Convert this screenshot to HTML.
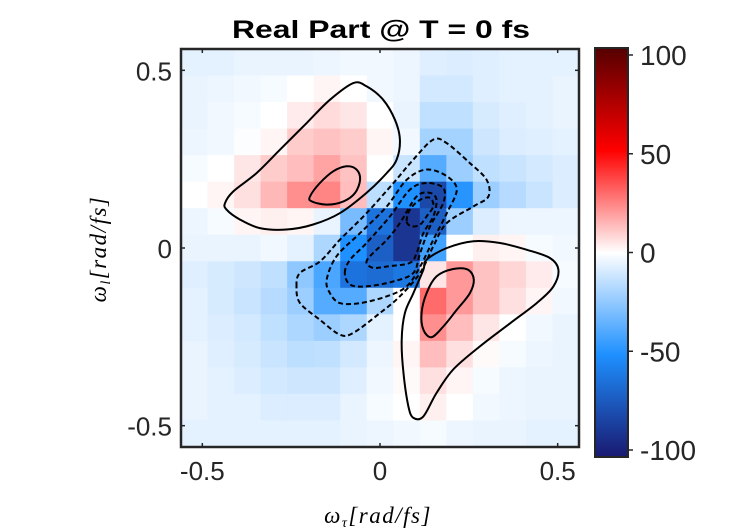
<!DOCTYPE html>
<html><head><meta charset="utf-8"><style>
body{margin:0;background:#fff;}
svg{display:block;font-family:"Liberation Sans",sans-serif;}
</style></head><body>
<svg id="chart" width="731" height="531" viewBox="0 0 731 531" xmlns="http://www.w3.org/2000/svg">
<defs>
<linearGradient id="cbg" x1="0" y1="1" x2="0" y2="0">
<stop offset="0" stop-color="#191970"/><stop offset="0.25" stop-color="#1e90ff"/><stop offset="0.5" stop-color="#ffffff"/><stop offset="0.75" stop-color="#ff0000"/><stop offset="1" stop-color="#550000"/>
</linearGradient>
<clipPath id="pc"><rect x="181" y="49" width="398" height="398"/></clipPath>
</defs>
<g id="cells" clip-path="url(#pc)"></g>
<g id="contours" clip-path="url(#pc)"></g>
<g id="axes"></g>
<text x="381" y="38" text-anchor="middle" font-size="25" font-weight="bold" textLength="298" lengthAdjust="spacingAndGlyphs">Real Part @ T = 0 fs</text>
<text x="378" y="523" text-anchor="middle" font-family="Liberation Serif,serif" font-style="italic" font-size="23" letter-spacing="1.5">ω<tspan font-size="14" dy="4">τ</tspan><tspan dy="-4">[rad/fs]</tspan></text>
<text transform="translate(106,249) rotate(-90)" text-anchor="middle" font-family="Liberation Serif,serif" font-style="italic" font-size="23" letter-spacing="1.5">ω<tspan font-size="14" dy="4">l</tspan><tspan dy="-4">[rad/fs]</tspan></text>
<rect x="595" y="48" width="33" height="409" fill="url(#cbg)" stroke="#262626" stroke-width="2"/>
<g id="cbticks"></g>
</svg>
<script>
const xTicks=[-0.5,0,0.5];
const yTicks=[-0.5,0,0.5];
const xTickLabels=["-0.5","0","0.5"];
const yTickLabels=["-0.5","0","0.5"];
const cbTicks=[-100,-50,0,50,100];
const cbTickLabels=["-100","-50","0","50","100"];
const gridRows=[
[-6,-6,-5,-5,-5,-4,-3,-3,-4,-7,-8,-7,-6,-6,-6],
[-5,-4,-3,-2,0,2,0,-3,-4,-10,-10,-7,-6,-6,-5],
[-5,-3,-2,0,4,7,5,0,-5,-14,-14,-9,-7,-6,-5],
[-4,-3,-1,2,10,12,10,2,-3,-20,-20,-11,-8,-7,-6],
[-2,0,5,10,13,18,12,0,-12,-38,-22,-14,-12,-10,-8],
[0,2,6,14,22,24,13,-15,-50,-80,-48,-22,-16,-12,-8],
[-4,-2,2,3,2,-5,-30,-62,-88,-70,-22,-8,-4,-4,-4],
[-5,-5,-5,-3,-6,-18,-50,-70,-88,-42,0,3,2,-2,-3],
[-7,-9,-11,-14,-25,-40,-62,-65,-60,5,20,12,8,4,-2],
[-6,-9,-12,-16,-22,-38,-38,-18,0,29,20,12,6,2,-3],
[-6,-8,-10,-14,-18,-22,-18,-6,0,22,13,5,0,-3,-5],
[-5,-7,-9,-12,-15,-14,-10,-4,2,13,6,1,-2,-4,-5],
[-5,-6,-8,-10,-11,-11,-7,-3,1,6,2,-2,-4,-5,-5],
[-5,-6,-6,-8,-8,-8,-5,-2,0,3,0,-3,-4,-5,-5],
[-6,-6,-6,-6,-6,-6,-5,-4,-3,-2,-4,-5,-5,-6,-6]];
const solidContours=[
[[-0.436,0.127],[-0.413,0.159],[-0.347,0.211],[-0.281,0.277],[-0.206,0.352],[-0.141,0.417],[-0.075,0.464],[-0.038,0.455],[0.009,0.417],[0.042,0.361],[0.056,0.305],[0.047,0.249],[0.019,0.211],[-0.038,0.155],[-0.113,0.098],[-0.188,0.066],[-0.263,0.052],[-0.338,0.056],[-0.394,0.080],[-0.432,0.108]],
[[-0.197,0.145],[-0.169,0.183],[-0.131,0.216],[-0.094,0.230],[-0.066,0.221],[-0.056,0.193],[-0.070,0.155],[-0.103,0.131],[-0.150,0.122],[-0.192,0.131]],
[[0.131,-0.033],[0.188,0],[0.263,0.019],[0.338,0.014],[0.413,-0.005],[0.478,-0.028],[0.502,-0.061],[0.488,-0.108],[0.441,-0.155],[0.366,-0.212],[0.281,-0.277],[0.206,-0.342],[0.159,-0.408],[0.122,-0.474],[0.094,-0.478],[0.080,-0.446],[0.066,-0.352],[0.061,-0.259],[0.070,-0.183],[0.094,-0.127],[0.122,-0.061]],
[[0.131,-0.127],[0.159,-0.080],[0.206,-0.059],[0.248,-0.061],[0.264,-0.089],[0.253,-0.127],[0.216,-0.174],[0.178,-0.221],[0.145,-0.251],[0.122,-0.230],[0.117,-0.183]]];
const dashedContours=[
[[-0.235,-0.108],[-0.225,-0.070],[-0.169,-0.038],[-0.113,0.023],[-0.038,0.098],[0.038,0.183],[0.094,0.249],[0.150,0.305],[0.188,0.295],[0.253,0.239],[0.300,0.192],[0.305,0.145],[0.263,0.117],[0.188,0.070],[0.150,0.005],[0.113,-0.070],[0.056,-0.136],[0,-0.183],[-0.075,-0.239],[-0.113,-0.244],[-0.169,-0.202],[-0.225,-0.155]],
[[-0.150,-0.089],[-0.122,-0.023],[-0.056,0.042],[0.019,0.117],[0.075,0.192],[0.131,0.221],[0.188,0.202],[0.216,0.164],[0.188,0.098],[0.150,0.023],[0.113,-0.052],[0.075,-0.108],[0.019,-0.136],[-0.056,-0.155],[-0.113,-0.155],[-0.141,-0.127]],
[[-0.099,-0.070],[-0.084,-0.033],[-0.038,0.014],[0.028,0.089],[0.084,0.164],[0.131,0.183],[0.178,0.169],[0.178,0.127],[0.141,0.061],[0.113,-0.014],[0.094,-0.070],[0.038,-0.094],[-0.038,-0.108],[-0.084,-0.103]],
[[-0.038,-0.042],[-0.028,-0.023],[0.019,0.023],[0.056,0.070],[0.103,0.145],[0.141,0.155],[0.159,0.136],[0.150,0.089],[0.122,0.042],[0.103,-0.014],[0.084,-0.042],[0.019,-0.052],[-0.019,-0.056]],
[[0.075,0.075],[0.084,0.108],[0.113,0.136],[0.141,0.141],[0.150,0.117],[0.131,0.089],[0.113,0.066],[0.089,0.061]]];

const NS="http://www.w3.org/2000/svg";
const L=181,T=49,W=398,H=398,DMIN=-0.56,DMAX=0.56;
const sx=v=>L+(v-DMIN)/(DMAX-DMIN)*W;
const sy=v=>T+(DMAX-v)/(DMAX-DMIN)*H;
const cbY=v=>450-(v+100)/200*395;
function lerp(a,b,t){return a.map((x,i)=>Math.round(x+(b[i]-x)*t));}
const stops=[[-100,[25,25,112]],[-50,[30,144,255]],[0,[255,255,255]],[50,[255,0,0]],[100,[85,0,0]]];
function color(v){v=Math.max(-100,Math.min(100,v));for(let i=0;i<stops.length-1;i++){if(v<=stops[i+1][0]){const t=(v-stops[i][0])/(stops[i+1][0]-stops[i][0]);const c=lerp(stops[i][1],stops[i+1][1],t);return `rgb(${c})`;}}return 'rgb(85,0,0)';}
function mk(tag,attrs,parent){const e=document.createElementNS(NS,tag);for(const k in attrs)e.setAttribute(k,attrs[k]);parent.appendChild(e);return e;}
const n=gridRows.length,cw=(DMAX-DMIN)/n;
const cells=document.getElementById('cells');
gridRows.forEach((row,r)=>row.forEach((v,c)=>{
 const x0=DMIN+c*cw,y1=DMAX-r*cw;
 const e=mk('rect',{x:sx(x0),y:sy(y1),width:sx(x0+cw)-sx(x0)+0.5,height:sy(y1-cw)-sy(y1)+0.5,fill:color(v)},cells);
 
 
}));
const cg=document.getElementById('contours');
function pathOf(pts){
 const P=pts.map(p=>[sx(p[0]),sy(p[1])]);const m=P.length;
 let d='M'+P[0][0].toFixed(1)+','+P[0][1].toFixed(1);
 for(let i=0;i<m;i++){const p0=P[(i-1+m)%m],p1=P[i],p2=P[(i+1)%m],p3=P[(i+2)%m];
  const c1=[p1[0]+(p2[0]-p0[0])/6,p1[1]+(p2[1]-p0[1])/6],c2=[p2[0]-(p3[0]-p1[0])/6,p2[1]-(p3[1]-p1[1])/6];
  d+='C'+c1.map(v=>v.toFixed(1))+' '+c2.map(v=>v.toFixed(1))+' '+p2.map(v=>v.toFixed(1));}
 return d+'Z';}
solidContours.forEach(p=>{const e=mk('path',{d:pathOf(p),fill:'none',stroke:'#000','stroke-width':2,'stroke-linejoin':'round'},cg);
 
 });
dashedContours.forEach(p=>{const e=mk('path',{d:pathOf(p),fill:'none',stroke:'#000','stroke-width':2,'stroke-dasharray':'5 3','stroke-linejoin':'round'},cg);
 
 });
const ax=document.getElementById('axes');
const fr=mk('rect',{x:L,y:T,width:W,height:H,fill:'none',stroke:'#262626','stroke-width':2.5},ax);


xTicks.forEach((v,i)=>{const x=sx(v);
 mk('line',{x1:x,x2:x,y1:T+H,y2:T+H-4,stroke:'#262626','stroke-width':1.5},ax);
 mk('line',{x1:x,x2:x,y1:T,y2:T+4,stroke:'#262626','stroke-width':1.5},ax);
 const t=mk('text',{x:x,y:T+H+33,'text-anchor':'middle','font-size':26,fill:'#262626'},ax);t.textContent=xTickLabels[i];
 
 });
yTicks.forEach((v,i)=>{const y=sy(v);
 mk('line',{x1:L,x2:L+4,y1:y,y2:y,stroke:'#262626','stroke-width':1.5},ax);
 mk('line',{x1:L+W,x2:L+W-4,y1:y,y2:y,stroke:'#262626','stroke-width':1.5},ax);
 const t=mk('text',{x:L-9,y:y+10,'text-anchor':'end','font-size':26,fill:'#262626'},ax);t.textContent=yTickLabels[i];
 
 });
const cb=document.getElementById('cbticks');
cbTicks.forEach((v,i)=>{const y=cbY(v);
 mk('line',{x1:628,x2:633,y1:y,y2:y,stroke:'#262626','stroke-width':1.5},cb);
 const t=mk('text',{x:640,y:y+10,'font-size':28,fill:'#262626'},cb);t.textContent=cbTickLabels[i];
 
 });
</script>
</body></html>
